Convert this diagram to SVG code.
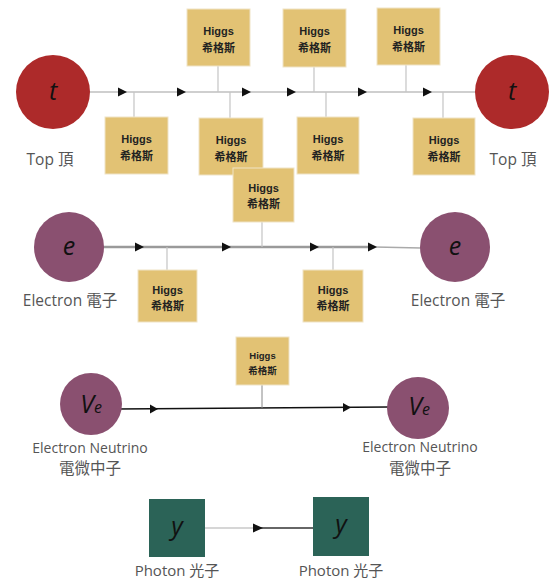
<svg xmlns="http://www.w3.org/2000/svg" width="549" height="582" viewBox="0 0 549 582">
  <defs>
    <style>
      .higgs rect { fill: #e2c274; stroke: #efe3c6; stroke-width: 1; }
      .higgs text { font-family: "Liberation Sans", "Noto Sans CJK TC", sans-serif; font-weight: bold; font-size: 11px; fill: #222; text-anchor: middle; }
      .higgs.small text { font-size: 9.5px; }
      .stem { stroke: #c4c4c4; stroke-width: 1.2; fill: none; }
      .lbl { font-family: "Open Sans", "Noto Sans CJK TC", sans-serif; font-size: 15.5px; fill: #555; text-anchor: middle; }
      .lbl.nu { font-size: 14px; }
      .lbl.ph { font-size: 15px; }
      .sym { font-family: "Open Sans", "DejaVu Sans", sans-serif; font-style: italic; font-size: 25px; fill: #111; text-anchor: middle; }
      .top { fill: #ad2a2a; }
      .lep { fill: #8a5070; }
      .pho { fill: #2b6357; }
    </style>
  </defs>

  <!-- connectors -->
  <g id="connectors">
    <!-- top quark line -->
    <line x1="90" y1="92" x2="476" y2="92" stroke="#cfcfcf" stroke-width="2"/>
    <!-- stems, top row -->
    <line class="stem" x1="134" y1="92" x2="134" y2="117"/>
    <line class="stem" x1="218" y1="66" x2="218" y2="92"/>
    <line class="stem" x1="230" y1="92" x2="230" y2="118"/>
    <line class="stem" x1="314" y1="67" x2="314" y2="92"/>
    <line class="stem" x1="326" y1="92" x2="326" y2="117"/>
    <line class="stem" x1="406" y1="65" x2="406" y2="92"/>
    <line class="stem" x1="443" y1="92" x2="443" y2="118"/>
    <!-- electron line -->
    <line x1="103" y1="247" x2="375" y2="247" stroke="#9a9a9a" stroke-width="2.5"/>
    <line x1="375" y1="247" x2="421" y2="248" stroke="#aaaaaa" stroke-width="1.5"/>
    <line class="stem" x1="262" y1="222" x2="262" y2="247"/>
    <line class="stem" x1="167" y1="247" x2="167" y2="270"/>
    <line class="stem" x1="333" y1="247" x2="333" y2="270"/>
    <!-- neutrino line -->
    <line x1="117" y1="409" x2="388" y2="407" stroke="#111" stroke-width="1.5"/>
    <line x1="262" y1="385" x2="262" y2="408" stroke="#888" stroke-width="1"/>
    <!-- photon line -->
    <line x1="205" y1="528" x2="256" y2="528" stroke="#d6d6d6" stroke-width="2"/>
    <line x1="256" y1="528" x2="313" y2="528" stroke="#333" stroke-width="1.3"/>
    <!-- arrowheads -->
    <g fill="#111">
      <path d="M118,87.5 L127,92 L118,96.5 Z"/>
      <path d="M177,87.5 L186,92 L177,96.5 Z"/>
      <path d="M242,87.5 L251,92 L242,96.5 Z"/>
      <path d="M287,87.5 L296,92 L287,96.5 Z"/>
      <path d="M358,87.5 L367,92 L358,96.5 Z"/>
      <path d="M423,87.5 L432,92 L423,96.5 Z"/>
      <path d="M135,242.5 L144,247 L135,251.5 Z"/>
      <path d="M222,242.5 L231,247 L222,251.5 Z"/>
      <path d="M310,242.5 L319,247 L310,251.5 Z"/>
      <path d="M368,242.5 L377,247 L368,251.5 Z"/>
      <path d="M150,404.5 L158,409 L150,413.5 Z"/>
      <path d="M343,403 L351,407.5 L343,412 Z"/>
      <path d="M253,523.5 L263,528 L253,532.5 Z"/>
    </g>
  </g>

  <!-- top quarks -->
  <g id="top-left">
    <circle class="top" cx="53" cy="92" r="37"/>
    <text class="sym" x="53" y="100">t</text>
    <text class="lbl" x="50" y="165">Top 頂</text>
  </g>
  <g id="top-right">
    <circle class="top" cx="512" cy="92" r="37"/>
    <text class="sym" x="512" y="100">t</text>
    <text class="lbl" x="513" y="165">Top 頂</text>
  </g>

  <!-- Higgs bosons coupled to the top quark -->
  <g id="higgs-t1" class="higgs">
    <rect x="105" y="117" width="63" height="57"/>
    <text x="136.5" y="143">Higgs</text>
    <text x="136.5" y="160">希格斯</text>
  </g>
  <g id="higgs-t2" class="higgs">
    <rect x="187" y="9" width="63" height="57"/>
    <text x="218.5" y="35">Higgs</text>
    <text x="218.5" y="52">希格斯</text>
  </g>
  <g id="higgs-t3" class="higgs">
    <rect x="199" y="118" width="64" height="57"/>
    <text x="231" y="144">Higgs</text>
    <text x="231" y="161">希格斯</text>
  </g>
  <g id="higgs-t4" class="higgs">
    <rect x="283" y="9" width="63" height="58"/>
    <text x="314.5" y="35">Higgs</text>
    <text x="314.5" y="52">希格斯</text>
  </g>
  <g id="higgs-t5" class="higgs">
    <rect x="297" y="117" width="62" height="57"/>
    <text x="328" y="143">Higgs</text>
    <text x="328" y="160">希格斯</text>
  </g>
  <g id="higgs-t6" class="higgs">
    <rect x="377" y="8" width="63" height="57"/>
    <text x="408.5" y="34">Higgs</text>
    <text x="408.5" y="51">希格斯</text>
  </g>
  <g id="higgs-t7" class="higgs">
    <rect x="413" y="118" width="62" height="57"/>
    <text x="444" y="144">Higgs</text>
    <text x="444" y="161">希格斯</text>
  </g>

  <!-- electrons -->
  <g id="electron-left">
    <circle class="lep" cx="69" cy="247" r="35"/>
    <text class="sym" x="69" y="255">e</text>
    <text class="lbl" x="70" y="306">Electron 電子</text>
  </g>
  <g id="electron-right">
    <circle class="lep" cx="455" cy="247" r="35"/>
    <text class="sym" x="455" y="255">e</text>
    <text class="lbl" x="458" y="306">Electron 電子</text>
  </g>

  <!-- Higgs bosons coupled to the electron -->
  <g id="higgs-e1" class="higgs">
    <rect x="233" y="168" width="61" height="54"/>
    <text x="263.5" y="192">Higgs</text>
    <text x="263.5" y="208">希格斯</text>
  </g>
  <g id="higgs-e2" class="higgs">
    <rect x="138" y="270" width="59" height="52"/>
    <text x="167.5" y="294">Higgs</text>
    <text x="167.5" y="310">希格斯</text>
  </g>
  <g id="higgs-e3" class="higgs">
    <rect x="303" y="270" width="60" height="52"/>
    <text x="333" y="294">Higgs</text>
    <text x="333" y="310">希格斯</text>
  </g>

  <!-- electron neutrinos -->
  <g id="neutrino-left">
    <circle class="lep" cx="91" cy="404" r="31"/>
    <text class="sym" x="91" y="413">V<tspan font-size="16px">e</tspan></text>
    <text class="lbl nu" x="90" y="453">Electron Neutrino</text>
    <text class="lbl" x="90" y="474">電微中子</text>
  </g>
  <g id="neutrino-right">
    <circle class="lep" cx="418" cy="408" r="31"/>
    <text class="sym" x="419" y="415">V<tspan font-size="16px">e</tspan></text>
    <text class="lbl nu" x="420" y="452">Electron Neutrino</text>
    <text class="lbl" x="420" y="474">電微中子</text>
  </g>

  <!-- Higgs boson on the neutrino line -->
  <g id="higgs-n1" class="higgs small">
    <rect x="236" y="337" width="53" height="48"/>
    <text x="262.5" y="359">Higgs</text>
    <text x="262.5" y="374">希格斯</text>
  </g>

  <!-- photons -->
  <g id="photon-left">
    <rect class="pho" x="149" y="499" width="56" height="58"/>
    <text class="sym" x="177" y="535">y</text>
    <text class="lbl ph" x="177" y="576">Photon 光子</text>
  </g>
  <g id="photon-right">
    <rect class="pho" x="313" y="497" width="56" height="59"/>
    <text class="sym" x="341" y="533">y</text>
    <text class="lbl ph" x="341" y="576">Photon 光子</text>
  </g>
</svg>
